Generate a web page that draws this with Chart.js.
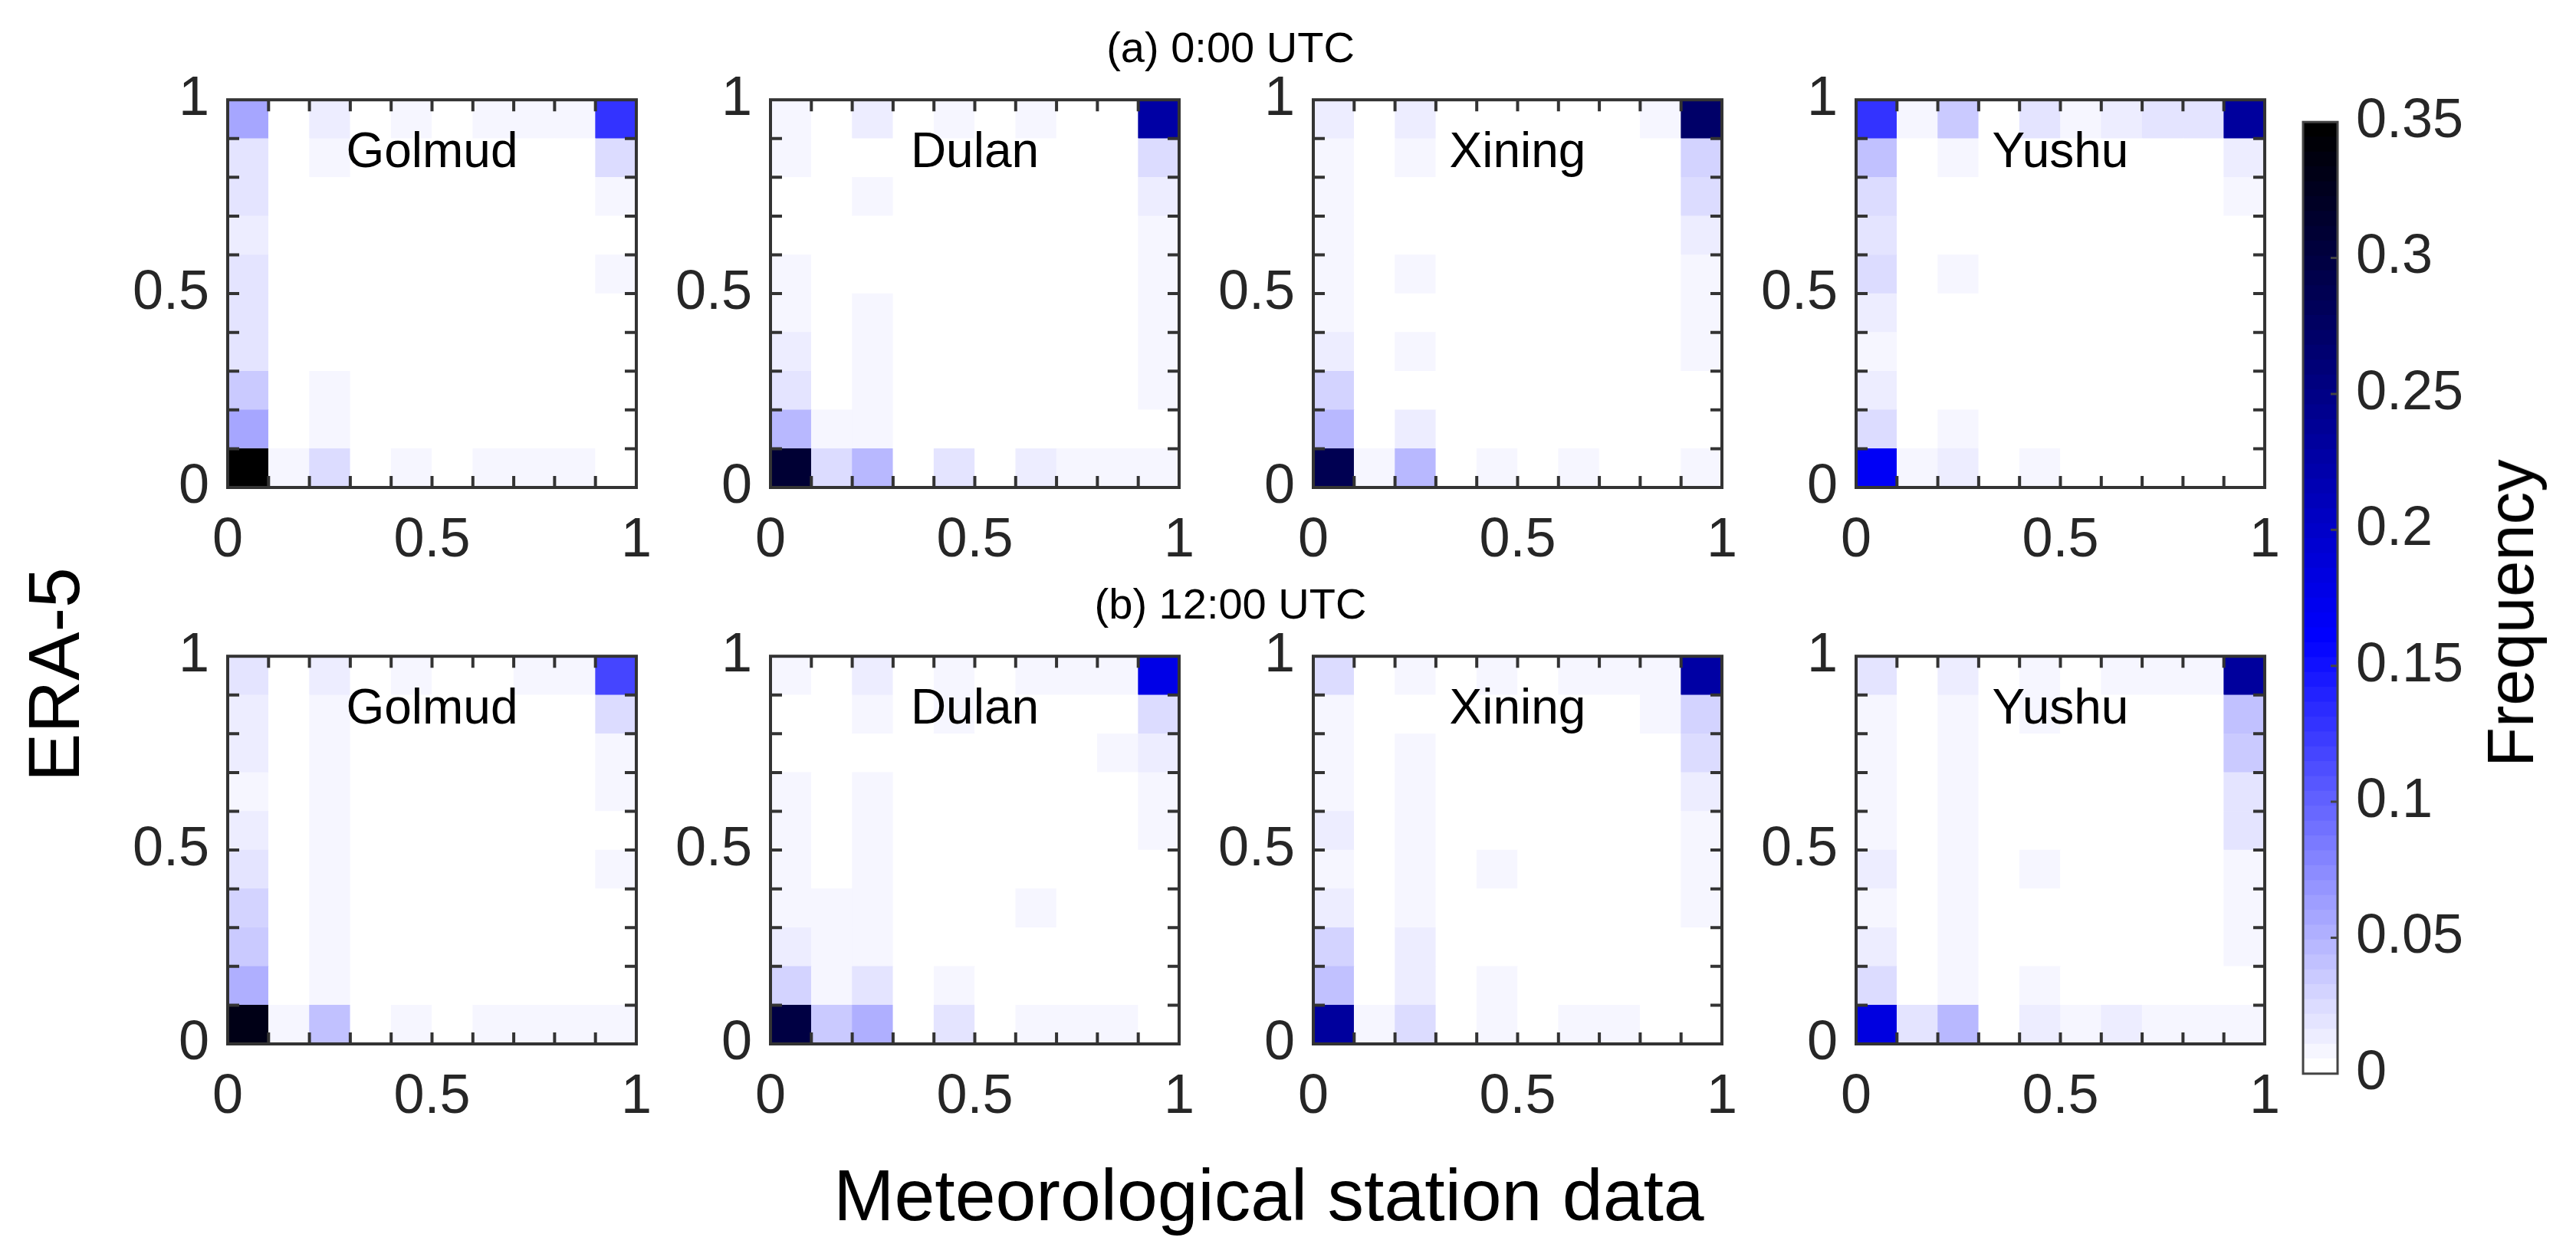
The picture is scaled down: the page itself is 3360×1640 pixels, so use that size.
<!DOCTYPE html>
<html>
<head>
<meta charset="utf-8">
<script src="https://cdn.jsdelivr.net/npm/chart.js@4.4.1/dist/chart.umd.min.js"></script>
<style>
  html, body { margin: 0; padding: 0; background: #ffffff; }
  #fig { position: relative; width: 3360px; height: 1640px; overflow: hidden; background: #ffffff;
         font-family: 'Liberation Sans', Arial, Helvetica, sans-serif; color: #000; }
  #fig canvas { position: absolute; }
  .lbl { position: absolute; white-space: nowrap; line-height: normal; transform: translate(-50%, -50%); }
  .rot { transform: translate(-50%, -50%) rotate(-90deg); }
</style>
</head>
<body>
<div id="fig"></div>
<script>
// ---------------- DATA ----------------
const xBinCenters = [0.05, 0.15, 0.25, 0.35, 0.45, 0.55, 0.65, 0.75, 0.85, 0.95];
const yBinEdges   = [0, 0.1, 0.2, 0.3, 0.4, 0.5, 0.6, 0.7, 0.8, 0.9, 1.0];
const axisTickValues  = [0, 0.5, 1];
const innerTickValues = [0.1, 0.2, 0.3, 0.4, 0.5, 0.6, 0.7, 0.8, 0.9];
const colorbarTickValues = [0, 0.05, 0.1, 0.15, 0.2, 0.25, 0.3, 0.35];
const stationNames = ['Golmud', 'Dulan', 'Xining', 'Yushu'];
const timeTitles = ['(a) 0:00 UTC', '(b) 12:00 UTC'];
const freqMax = 0.35;

// Frequency matrices: rows listed from the top bin (ERA-5 0.9-1) down to the bottom bin (0-0.1);
// columns: station-data bins 0-0.1 ... 0.9-1.
const golmud00 = [
  [0.055, 0, 0.012, 0, 0.006, 0, 0.006, 0.006, 0.006, 0.13],
  [0.02, 0, 0.008, 0, 0, 0, 0, 0, 0, 0.022],
  [0.02, 0, 0, 0, 0, 0, 0, 0, 0, 0.007],
  [0.012, 0, 0, 0, 0, 0, 0, 0, 0, 0],
  [0.02, 0, 0, 0, 0, 0, 0, 0, 0, 0.006],
  [0.02, 0, 0, 0, 0, 0, 0, 0, 0, 0],
  [0.02, 0, 0, 0, 0, 0, 0, 0, 0, 0],
  [0.035, 0, 0.006, 0, 0, 0, 0, 0, 0, 0],
  [0.055, 0, 0.006, 0, 0, 0, 0, 0, 0, 0],
  [0.35, 0.006, 0.022, 0, 0.006, 0, 0.006, 0.006, 0.006, 0]
];
const dulan00 = [
  [0.006, 0, 0.015, 0, 0.006, 0, 0.006, 0, 0, 0.225],
  [0.006, 0, 0, 0, 0, 0, 0, 0, 0, 0.022],
  [0, 0, 0.007, 0, 0, 0, 0, 0, 0, 0.016],
  [0, 0, 0, 0, 0, 0, 0, 0, 0, 0.007],
  [0.006, 0, 0, 0, 0, 0, 0, 0, 0, 0.007],
  [0.006, 0, 0.006, 0, 0, 0, 0, 0, 0, 0.006],
  [0.012, 0, 0.006, 0, 0, 0, 0, 0, 0, 0.006],
  [0.02, 0, 0.006, 0, 0, 0, 0, 0, 0, 0.006],
  [0.045, 0.006, 0.01, 0, 0, 0, 0, 0, 0, 0],
  [0.31, 0.025, 0.045, 0, 0.02, 0, 0.012, 0.006, 0.006, 0.006]
];
const xining00 = [
  [0.012, 0, 0.012, 0, 0, 0, 0, 0, 0.006, 0.27],
  [0.006, 0, 0.007, 0, 0, 0, 0, 0, 0, 0.028],
  [0.006, 0, 0, 0, 0, 0, 0, 0, 0, 0.022],
  [0.006, 0, 0, 0, 0, 0, 0, 0, 0, 0.015],
  [0.006, 0, 0.006, 0, 0, 0, 0, 0, 0, 0.007],
  [0.006, 0, 0, 0, 0, 0, 0, 0, 0, 0.007],
  [0.012, 0, 0.006, 0, 0, 0, 0, 0, 0, 0.007],
  [0.028, 0, 0, 0, 0, 0, 0, 0, 0, 0],
  [0.045, 0, 0.012, 0, 0, 0, 0, 0, 0, 0],
  [0.285, 0.006, 0.045, 0, 0.006, 0, 0.008, 0, 0, 0.006]
];
const yushu00 = [
  [0.13, 0.01, 0.035, 0, 0.02, 0.008, 0.012, 0.018, 0.018, 0.23],
  [0.04, 0, 0.008, 0, 0, 0, 0, 0, 0, 0.015],
  [0.025, 0, 0, 0, 0, 0, 0, 0, 0, 0.008],
  [0.02, 0, 0, 0, 0, 0, 0, 0, 0, 0],
  [0.022, 0, 0.006, 0, 0, 0, 0, 0, 0, 0],
  [0.012, 0, 0, 0, 0, 0, 0, 0, 0, 0],
  [0.007, 0, 0, 0, 0, 0, 0, 0, 0, 0],
  [0.012, 0, 0, 0, 0, 0, 0, 0, 0, 0],
  [0.022, 0, 0.008, 0, 0, 0, 0, 0, 0, 0],
  [0.165, 0.008, 0.015, 0, 0.008, 0, 0, 0, 0, 0]
];
const golmud12 = [
  [0.02, 0, 0.015, 0, 0.006, 0, 0, 0.006, 0.006, 0.117],
  [0.012, 0, 0.007, 0, 0, 0, 0, 0, 0, 0.024],
  [0.012, 0, 0.007, 0, 0, 0, 0, 0, 0, 0.007],
  [0.006, 0, 0.007, 0, 0, 0, 0, 0, 0, 0.007],
  [0.015, 0, 0.007, 0, 0, 0, 0, 0, 0, 0],
  [0.02, 0, 0.007, 0, 0, 0, 0, 0, 0, 0.007],
  [0.03, 0, 0.007, 0, 0, 0, 0, 0, 0, 0],
  [0.035, 0, 0.007, 0, 0, 0, 0, 0, 0, 0],
  [0.05, 0, 0.007, 0, 0, 0, 0, 0, 0, 0],
  [0.33, 0.007, 0.04, 0, 0.007, 0, 0.007, 0.007, 0.007, 0.007]
];
const dulan12 = [
  [0.006, 0, 0.015, 0, 0.006, 0, 0.006, 0.006, 0.006, 0.175],
  [0, 0, 0.006, 0, 0.006, 0, 0, 0, 0, 0.024],
  [0, 0, 0, 0, 0, 0, 0, 0, 0.008, 0.016],
  [0.006, 0, 0.006, 0, 0, 0, 0, 0, 0, 0.008],
  [0.006, 0, 0.006, 0, 0, 0, 0, 0, 0, 0.008],
  [0.006, 0, 0.006, 0, 0, 0, 0, 0, 0, 0],
  [0.006, 0.006, 0.006, 0, 0, 0, 0.006, 0, 0, 0],
  [0.012, 0.006, 0.006, 0, 0, 0, 0, 0, 0, 0],
  [0.03, 0.006, 0.02, 0, 0.006, 0, 0, 0, 0, 0],
  [0.30, 0.035, 0.05, 0, 0.018, 0, 0.006, 0.006, 0.006, 0]
];
const xining12 = [
  [0.025, 0, 0.006, 0, 0.006, 0, 0.006, 0.006, 0.006, 0.225],
  [0.006, 0, 0, 0, 0, 0, 0, 0, 0.006, 0.03],
  [0.006, 0, 0.007, 0, 0, 0, 0, 0, 0, 0.025],
  [0.006, 0, 0.007, 0, 0, 0, 0, 0, 0, 0.015],
  [0.014, 0, 0.007, 0, 0, 0, 0, 0, 0, 0.006],
  [0.006, 0, 0.007, 0, 0.007, 0, 0, 0, 0, 0.006],
  [0.014, 0, 0.007, 0, 0, 0, 0, 0, 0, 0.006],
  [0.03, 0, 0.014, 0, 0, 0, 0, 0, 0, 0],
  [0.04, 0, 0.014, 0, 0.007, 0, 0, 0, 0, 0],
  [0.23, 0.007, 0.025, 0, 0.007, 0, 0.007, 0.007, 0, 0]
];
const yushu12 = [
  [0.02, 0, 0.015, 0, 0.006, 0, 0.006, 0.006, 0.006, 0.23],
  [0.006, 0, 0.007, 0, 0.006, 0, 0, 0, 0, 0.04],
  [0.006, 0, 0.007, 0, 0, 0, 0, 0, 0, 0.035],
  [0.006, 0, 0.007, 0, 0, 0, 0, 0, 0, 0.018],
  [0.006, 0, 0.007, 0, 0, 0, 0, 0, 0, 0.018],
  [0.014, 0, 0.007, 0, 0.006, 0, 0, 0, 0, 0.006],
  [0.007, 0, 0.007, 0, 0, 0, 0, 0, 0, 0.006],
  [0.014, 0, 0.007, 0, 0, 0, 0, 0, 0, 0.006],
  [0.022, 0, 0.007, 0, 0.006, 0, 0, 0, 0, 0],
  [0.185, 0.02, 0.045, 0, 0.014, 0.007, 0.012, 0.006, 0.006, 0.006]
];

const panelMatrices = [
  [golmud00, dulan00, xining00, yushu00],
  [golmud12, dulan12, xining12, yushu12]
];

// ---------------- STYLE / LAYOUT ----------------
const FONT = "'Liberation Sans', Arial, Helvetica, sans-serif";
const AXIS_COLOR = '#262626';
const BOX_COLOR = '#333333';
const panelLefts = [297, 1005, 1713, 2421];
const panelTops = [113, 839];
const panelW = 540, panelH = 523;
const yAxisW = 130, xAxisH = 120, padTop = 50, padRight = 40;

// colormap: white -> blue -> black, 64 discrete levels like MATLAB
const N_LEVELS = 64;
function cmapContinuous(f) { // f in [0,1]
  const fb = 0.16 / freqMax;
  if (f <= fb) { const c = Math.round(255 * (1 - f / fb)); return [c, c, 255]; }
  const t = Math.min(1, (f - fb) / (1 - fb));
  return [0, 0, Math.round(255 * (1 - t))];
}
function levelColor(i) {
  const [r, g, b] = cmapContinuous(i / (N_LEVELS - 1));
  return `rgb(${r},${g},${b})`;
}
function freqColor(v) {
  const idx = Math.max(0, Math.min(N_LEVELS - 1, Math.floor(v / freqMax * N_LEVELS)));
  return levelColor(idx);
}

const fig = document.getElementById('fig');
function addCanvas(left, top, w, h) {
  const c = document.createElement('canvas');
  c.width = w; c.height = h;
  c.style.left = left + 'px'; c.style.top = top + 'px';
  c.style.width = w + 'px'; c.style.height = h + 'px';
  fig.appendChild(c);
  return c;
}
function addLabel(text, x, y, size, rotated) {
  const d = document.createElement('div');
  d.className = 'lbl' + (rotated ? ' rot' : '');
  d.textContent = text;
  d.style.left = x + 'px'; d.style.top = y + 'px';
  d.style.fontSize = size + 'px';
  fig.appendChild(d);
}

const boxPlugin = {
  id: 'boxTicks',
  afterDatasetsDraw(chart, args, opts) {
    const { ctx, chartArea: a, scales } = chart;
    const xs = scales.x, ys = scales.y;
    ctx.save();
    ctx.strokeStyle = BOX_COLOR;
    ctx.lineWidth = 4;
    ctx.lineCap = 'butt';
    const L = 15;
    ctx.beginPath();
    innerTickValues.forEach(v => {
      const px = xs.getPixelForValue(v);
      ctx.moveTo(px, a.bottom); ctx.lineTo(px, a.bottom - L);
      ctx.moveTo(px, a.top); ctx.lineTo(px, a.top + L);
      const py = ys.getPixelForValue(v);
      ctx.moveTo(a.left, py); ctx.lineTo(a.left + L, py);
      ctx.moveTo(a.right, py); ctx.lineTo(a.right - L, py);
    });
    ctx.stroke();
    ctx.strokeRect(a.left, a.top, a.right - a.left, a.bottom - a.top);
    if (opts && opts.name) {
      ctx.fillStyle = '#000';
      ctx.font = `64px ${FONT}`;
      ctx.textAlign = 'center';
      ctx.textBaseline = 'alphabetic';
      ctx.fillText(opts.name, (a.left + a.right) / 2, a.top + 88);
    }
    ctx.restore();
  }
};

function tickFont(size) { return { family: FONT, size: size }; }

// ---------------- PANELS ----------------
panelMatrices.forEach((rowMats, ri) => {
  rowMats.forEach((mat, ci) => {
    const cw = yAxisW + panelW + padRight;
    const ch = padTop + panelH + xAxisH;
    const canvas = addCanvas(panelLefts[ci] - yAxisW, panelTops[ri] - padTop, cw, ch);
    const datasets = [];
    for (let r = 0; r < 10; r++) {
      const rowVals = mat[9 - r];
      datasets.push({
        data: xBinCenters.map(x => ({ x: x, y: [yBinEdges[r], yBinEdges[r + 1]] })),
        backgroundColor: rowVals.map(freqColor),
        borderWidth: 0,
        grouped: false,
        barPercentage: 1,
        categoryPercentage: 1
      });
    }
    new Chart(canvas, {
      type: 'bar',
      data: { datasets },
      options: {
        responsive: false, animation: false, devicePixelRatio: 1,
        layout: { padding: { top: padTop, right: padRight, left: 0, bottom: 0 } },
        plugins: { legend: { display: false }, tooltip: { enabled: false }, boxTicks: { name: stationNames[ci] } },
        scales: {
          x: {
            type: 'linear', min: 0, max: 1, offset: false,
            grid: { display: false, drawTicks: false }, border: { display: false },
            afterBuildTicks: s => { s.ticks = axisTickValues.map(v => ({ value: v })); },
            afterFit: s => { s.height = xAxisH; },
            ticks: { font: tickFont(72), color: AXIS_COLOR, padding: 27, maxRotation: 0, autoSkip: false,
                     callback: v => String(v) }
          },
          y: {
            type: 'linear', min: 0, max: 1,
            grid: { display: false, drawTicks: false }, border: { display: false },
            afterBuildTicks: s => { s.ticks = axisTickValues.map(v => ({ value: v })); },
            afterFit: s => { s.width = yAxisW; },
            ticks: { font: tickFont(72), color: AXIS_COLOR, padding: 24, autoSkip: false,
                     callback: v => String(v) }
          }
        }
      },
      plugins: [boxPlugin]
    });
  });
});

// ---------------- COLORBAR ----------------
(function () {
  const cbLeft = 3004, cbTop = 142, cbW = 45, cbH = 1276;
  const cbAxisW = 250, pad = 50, padL = 10;
  const canvas = addCanvas(cbLeft - padL, cbTop - pad, padL + cbW + cbAxisW, pad + cbH + pad);
  const step = freqMax / N_LEVELS;
  const datasets = [];
  for (let i = 0; i < N_LEVELS; i++) {
    datasets.push({
      data: [{ x: 'cb', y: [i * step, (i + 1) * step] }],
      backgroundColor: levelColor(i),
      borderWidth: 0, grouped: false, barPercentage: 1, categoryPercentage: 1
    });
  }
  const cbPlugin = {
    id: 'cbBox',
    afterDatasetsDraw(chart) {
      const { ctx, chartArea: a, scales } = chart;
      ctx.save();
      ctx.strokeStyle = '#444444';
      ctx.lineWidth = 3;
      ctx.beginPath();
      colorbarTickValues.slice(1, -1).forEach(v => {
        const py = scales.y.getPixelForValue(v);
        ctx.moveTo(a.right, py); ctx.lineTo(a.right - 9, py);
      });
      ctx.stroke();
      ctx.strokeRect(a.left, a.top, a.right - a.left, a.bottom - a.top);
      ctx.restore();
    }
  };
  new Chart(canvas, {
    type: 'bar',
    data: { labels: ['cb'], datasets },
    options: {
      responsive: false, animation: false, devicePixelRatio: 1,
      layout: { padding: { top: pad, bottom: pad, left: padL, right: 0 } },
      plugins: { legend: { display: false }, tooltip: { enabled: false } },
      scales: {
        x: { type: 'category', display: false, offset: true },
        y: {
          type: 'linear', position: 'right', min: 0, max: freqMax,
          grid: { display: false, drawTicks: false }, border: { display: false },
          afterBuildTicks: s => { s.ticks = colorbarTickValues.map(v => ({ value: v })); },
          afterFit: s => { s.width = cbAxisW; },
          ticks: { font: tickFont(72), color: AXIS_COLOR, padding: 24, autoSkip: false,
                   callback: v => String(v) }
        }
      }
    },
    plugins: [cbPlugin]
  });
})();

// ---------------- TITLES ----------------
addLabel(timeTitles[0], 1605, 61, 56, false);
addLabel(timeTitles[1], 1605, 787, 56, false);
addLabel('Meteorological station data', 1655, 1559, 95, false);
addLabel('ERA-5', 70, 880, 95, true);
addLabel('Frequency', 3275, 800, 85, true);
</script>
</body>
</html>
